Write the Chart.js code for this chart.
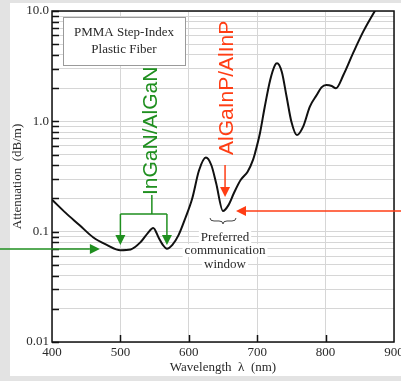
<!DOCTYPE html>
<html>
<head>
<meta charset="utf-8">
<script src="https://cdn.jsdelivr.net/npm/chart.js@4"></script>
<style>
  html, body { margin: 0; padding: 0; background: #e3e3e3; }
  canvas { display: block; }
</style>
</head>
<body>
<canvas id="lossChart" width="401" height="381"></canvas>
<script>
// attenuation of PMMA step-index POF
const wavelength = [400, 420, 440, 460, 480, 500, 515, 530, 540, 548, 556, 562, 568, 576, 585, 595,
  605, 615, 625, 633, 640, 650, 658, 666, 676, 686, 694, 697, 704, 711, 719, 726, 729, 736, 743,
  750, 758, 767, 777, 787, 794, 801, 809, 815, 826, 840, 855, 872, 885];
const attenuation = [0.195, 0.148, 0.115, 0.089, 0.076, 0.068, 0.069, 0.081, 0.097, 0.108, 0.088, 0.076, 0.070, 0.076, 0.093, 0.133,
  0.20, 0.36, 0.47, 0.40, 0.275, 0.154, 0.174, 0.224, 0.295, 0.35, 0.45, 0.52, 0.78, 1.35, 2.37, 3.23, 3.36, 2.8, 1.67,
  0.99, 0.75, 0.89, 1.36, 1.73, 2.03, 2.13, 2.09, 1.99, 2.63, 4.13, 6.5, 10, 13.5];

const xTicks = [400, 500, 600, 700, 800, 900];
const yMajor = [0.01, 0.1, 1, 10];
const yMajorLabels = ["0.01", "0.1", "1.0", "10.0"];
// minor grid lines 2..9 in each decade
const yTicks = [];
yMajor.forEach((d, i) => {
    yTicks.push(d);
    if (i < yMajor.length - 1) {
        for (let m = 2; m <= 9; m++) yTicks.push(d * m);
    }
});

const SERIF = "'Liberation Serif', 'Times New Roman', serif";
const SANS = "'Liberation Sans', Arial, sans-serif";
const GREEN = "#1f8f1f";
const RED = "#ff3d14";
const TEXT = "#2a2a2a";

function arrow(ctx, x1, y1, x2, y2, color) {
    const ang = Math.atan2(y2 - y1, x2 - x1);
    const len = 10, half = 5;
    ctx.strokeStyle = color;
    ctx.fillStyle = color;
    ctx.lineWidth = 1.5;
    ctx.beginPath();
    ctx.moveTo(x1, y1);
    ctx.lineTo(x2 - Math.cos(ang) * len, y2 - Math.sin(ang) * len);
    ctx.stroke();
    ctx.beginPath();
    ctx.moveTo(x2, y2);
    ctx.lineTo(x2 - Math.cos(ang) * len - Math.sin(ang) * half, y2 - Math.sin(ang) * len + Math.cos(ang) * half);
    ctx.lineTo(x2 - Math.cos(ang) * len + Math.sin(ang) * half, y2 - Math.sin(ang) * len - Math.cos(ang) * half);
    ctx.closePath();
    ctx.fill();
}

function vText(ctx, text, x, y, color) {
    ctx.save();
    ctx.translate(x, y);
    ctx.rotate(-Math.PI / 2);
    ctx.fillStyle = color;
    ctx.font = "21px " + SANS;
    ctx.textAlign = "left";
    ctx.textBaseline = "alphabetic";
    ctx.fillText(text, 0, 0);
    ctx.restore();
}

const background = {
    id: "background",
    beforeDraw(chart) {
        const ctx = chart.ctx;
        ctx.save();
        ctx.fillStyle = "#e3e3e3";
        ctx.fillRect(0, 0, chart.width, chart.height);
        ctx.fillStyle = "#ffffff";
        ctx.fillRect(10, 3, chart.width - 10, chart.height - 8);
        ctx.restore();
    }
};

const annotations = {
    id: "annotations",
    afterDatasetsDraw(chart) {
        const { ctx, chartArea: a, scales: { x, y } } = chart;
        const px = v => x.getPixelForValue(v);
        const py = v => y.getPixelForValue(v);
        ctx.save();

        // frame + inward ticks
        ctx.strokeStyle = "#111";
        ctx.lineWidth = 1.5;
        ctx.strokeRect(a.left, a.top, a.right - a.left, a.bottom - a.top);
        ctx.beginPath();
        yTicks.forEach(v => {
            const yy = Math.round(py(v)) + 0.5;
            ctx.moveTo(a.left, yy);
            ctx.lineTo(a.left + 7, yy);
        });
        xTicks.slice(1, -1).forEach(v => {
            const xx = Math.round(px(v)) + 0.5;
            ctx.moveTo(xx, a.bottom);
            ctx.lineTo(xx, a.bottom - 7);
        });
        ctx.stroke();

        // fibre label box
        ctx.fillStyle = "#fff";
        ctx.fillRect(a.left + 11, a.top + 6, 122, 48);
        ctx.strokeStyle = "#9a9a9a";
        ctx.lineWidth = 1;
        ctx.strokeRect(a.left + 11.5, a.top + 6.5, 122, 48);
        ctx.fillStyle = TEXT;
        ctx.font = "13px " + SERIF;
        ctx.textAlign = "center";
        ctx.textBaseline = "middle";
        ctx.fillText("PMMA Step-Index", a.left + 72, a.top + 22);
        ctx.fillText("Plastic Fiber", a.left + 72, a.top + 39);

        // green: InGaN/AlGaN bracket
        vText(ctx, "InGaN/AlGaN", px(553.5), py(0.215), GREEN);
        ctx.strokeStyle = GREEN;
        ctx.lineWidth = 1.5;
        ctx.beginPath();
        ctx.moveTo(px(546), py(0.215));
        ctx.lineTo(px(546), py(0.1445));
        ctx.moveTo(px(500), py(0.1445));
        ctx.lineTo(px(568), py(0.1445));
        ctx.stroke();
        arrow(ctx, px(500), py(0.1445), px(500), py(0.0756), GREEN);
        arrow(ctx, px(568), py(0.1445), px(568), py(0.0756), GREEN);
        arrow(ctx, 0, py(0.0695), px(470), py(0.0695), GREEN);

        // red: AlGaInP/AlInP
        vText(ctx, "AlGaInP/AlInP", px(664.6), py(0.495), RED);
        arrow(ctx, px(653), py(0.402), px(653), py(0.206), RED);
        arrow(ctx, chart.width, py(0.154), px(669), py(0.154), RED);

        // brace under the window
        const bx1 = px(631), bx2 = px(669), bm = (bx1 + bx2) / 2, by = py(0.125);
        ctx.strokeStyle = "#444";
        ctx.lineWidth = 1;
        ctx.beginPath();
        ctx.moveTo(bx1, by - 3);
        ctx.quadraticCurveTo(bx1, by, bx1 + 4, by);
        ctx.lineTo(bm - 4, by);
        ctx.quadraticCurveTo(bm, by, bm, by + 3);
        ctx.quadraticCurveTo(bm, by, bm + 4, by);
        ctx.lineTo(bx2 - 4, by);
        ctx.quadraticCurveTo(bx2, by, bx2, by - 3);
        ctx.stroke();

        // preferred window text on white
        const lines = ["Preferred", "communication", "window"];
        const cx = px(653), cy = py(0.0893);
        ctx.font = "13px " + SERIF;
        lines.forEach((t, i) => {
            const w = ctx.measureText(t).width;
            const ly = cy + i * 13.5;
            ctx.fillStyle = "#fff";
            ctx.fillRect(cx - w / 2 - 2, ly - 6.5, w + 4, 13);
            ctx.fillStyle = TEXT;
            ctx.fillText(t, cx, ly);
        });

        ctx.restore();
    }
};

const ctx = document.getElementById("lossChart").getContext("2d");
new Chart(ctx, {
    type: "line",
    data: {
        datasets: [{
            data: wavelength.map((w, i) => ({ x: w, y: attenuation[i] })),
            borderColor: "#111",
            borderWidth: 2,
            pointRadius: 0,
            fill: false,
            cubicInterpolationMode: "monotone"
        }]
    },
    options: {
        responsive: false,
        animation: false,
        devicePixelRatio: 1,
        layout: { padding: { left: 0, top: 11, right: 7, bottom: 0 } },
        plugins: { legend: { display: false }, tooltip: { enabled: false } },
        scales: {
            x: {
                type: "linear",
                min: 400,
                max: 900,
                afterBuildTicks: s => { s.ticks = xTicks.map(v => ({ value: v })); },
                afterFit: s => { s.height = 39; s.paddingLeft = 0; s.paddingRight = 0; },
                grid: { color: "#d6d6d6", drawTicks: false },
                border: { display: false },
                ticks: { padding: 3, autoSkip: false, maxRotation: 0, color: TEXT, font: { family: SERIF, size: 13 } },
                title: { display: true, text: "Wavelength  λ  (nm)", color: TEXT, font: { family: SERIF, size: 13 }, padding: { top: 0, bottom: 6 } }
            },
            y: {
                type: "logarithmic",
                min: 0.01,
                max: 10,
                afterBuildTicks: s => { s.ticks = yTicks.map(v => ({ value: v })); },
                afterFit: s => { s.width = 52; s.paddingTop = 0; s.paddingBottom = 0; },
                grid: { color: "#d6d6d6", drawTicks: false },
                border: { display: false },
                ticks: {
                    padding: 3,
                    autoSkip: false,
                    color: TEXT,
                    font: { family: SERIF, size: 13 },
                    callback: function (value) {
                        const i = yMajor.findIndex(m => Math.abs(m - value) / m < 1e-6);
                        return i >= 0 ? yMajorLabels[i] : "";
                    }
                },
                title: { display: true, text: "Attenuation  (dB/m)", color: TEXT, font: { family: SERIF, size: 13 }, padding: { top: 10, bottom: 0 } }
            }
        }
    },
    plugins: [background, annotations]
});
</script>
</body>
</html>
